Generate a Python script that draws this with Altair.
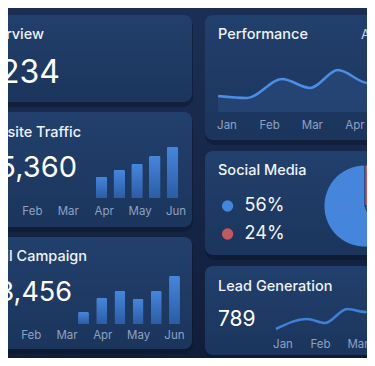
import altair as alt
import pandas as pd

FONT = "Inter"

# ---------------- data ----------------
months = ["Jan", "Feb", "Mar", "Apr", "May", "Jun"]
card_titles = ["Overview", "Website Traffic", "Email Campaign",
               "Performance", "Social Media", "Lead Generation"]
overview_total = "1,234"
traffic_total = "15,360"
email_total = "13,456"
lead_total = "789"
performance_side = "Avg"

traffic_months = ["Feb", "Mar", "Apr", "May", "Jun"]
traffic_values = [2.1, 2.8, 3.4, 4.2, 5.1]

email_months = ["Jan", "Feb", "Mar", "Apr", "May", "Jun"]
email_values = [1.2, 2.6, 3.3, 2.5, 3.3, 4.8]

performance_t = [-0.21, 0.47, 1.29, 1.95, 2.60, 3.30, 3.95]
performance_v = [16, 14, 33, 24, 42, 29, 38]

lead_t = [-0.19, 0.64, 1.12, 1.71, 2.19, 2.80]
lead_v = [11, 21, 17, 31, 28, 32]

social_labels = ["56%", "24%", "20%"]
social_values = [56, 24, 20]
social_order = [2, 0, 1]

# ---------------- style / layout ----------------
W, H = 359, 350
TITLE = "#eef2f9"
MUTED = "#8fa1c1"
BLUE = "#4586dc"
RED = "#c15a5f"
DARKBLUE = "#3667b3"

one = pd.DataFrame({"k": [0]})


def vgrad(top, bottom):
    return alt.Gradient(gradient="linear", x1=0, y1=0, x2=0, y2=1,
                        stops=[alt.GradientStop(offset=0, color=top),
                               alt.GradientStop(offset=1, color=bottom)])


def rect(x0, y0, x1, y1, color, radius=0, opacity=1.0):
    return alt.Chart(one).mark_rect(color=color, cornerRadius=radius, opacity=opacity).encode(
        x=alt.value(x0), x2=alt.value(x1), y=alt.value(y0), y2=alt.value(y1))


def label(s, x, y, size, color=TITLE, weight=500, align="left"):
    return alt.Chart(one).mark_text(font=FONT, fontSize=size, fontWeight=weight, color=color,
                                    align=align, baseline="alphabetic").encode(
        x=alt.value(x), y=alt.value(y), text=alt.value(s))


def lin(domain, rng):
    return alt.Scale(domain=domain, range=rng, nice=False, zero=False)


def month_row(labels, domain, rng, y):
    df = pd.DataFrame({"month": labels, "idx": list(range(len(labels)))})
    return alt.Chart(df).mark_text(font=FONT, fontSize=11.5, color=MUTED, align="center",
                                   baseline="alphabetic").encode(
        x=alt.X("idx:Q", scale=lin(domain, rng), axis=None),
        y=alt.value(y), text="month:N")


layers = []

# page background
layers.append(rect(0, 0, W, H, vgrad("#1b2f56", "#111e3a")))

cards = [(-42, 7, 184, 94), (-42, 104, 184, 219), (-42, 229, 184, 341),
         (197, 7, 430, 132), (197, 143, 430, 247), (197, 258, 430, 347)]
for (x0, y0, x1, y1) in cards:
    layers.append(rect(x0, y0 + 2, x1 + 1, y1 + 5, "#0a142b", radius=10, opacity=0.45))
for (x0, y0, x1, y1) in cards:
    layers.append(rect(x0, y0, x1, y1, vgrad("#22406d", "#1b355c"), radius=8))

# performance line chart
perf_df = pd.DataFrame({"t": performance_t, "v": performance_v})
px = alt.X("t:Q", scale=lin([0, 3], [219, 347]), axis=None)
py = alt.Y("v:Q", scale=lin([0, 50], [104, 54]), axis=None)
layers.append(alt.Chart(perf_df).mark_area(color="#2b4d82", opacity=0.55,
                                           interpolate="monotone").encode(x=px, y=py))
layers.append(alt.Chart(perf_df).mark_line(color="#4a8ee6", strokeWidth=2.5,
                                           interpolate="monotone").encode(x=px, y=py))

# lead generation line
lead_df = pd.DataFrame({"t": lead_t, "v": lead_v})
layers.append(alt.Chart(lead_df).mark_line(color="#3f7fd6", strokeWidth=2.5,
                                           interpolate="monotone").encode(
    x=alt.X("t:Q", scale=lin([0, 2], [275, 350]), axis=None),
    y=alt.Y("v:Q", scale=lin([0, 50], [332, 282]), axis=None)))

# bars
bar_grad = vgrad("#4686dc", "#2c5ca4")
traffic_df = pd.DataFrame({"month": traffic_months, "visits": traffic_values})
layers.append(alt.Chart(traffic_df).mark_bar(color=bar_grad, cornerRadiusTopLeft=1.5,
                                             cornerRadiusTopRight=1.5).encode(
    x=alt.X("month:N", sort=traffic_months,
            scale=alt.Scale(type="band", domain=traffic_months, range=[84.6, 173.4],
                            paddingInner=0.35, paddingOuter=0.175), axis=None),
    y=alt.Y("visits:Q", scale=alt.Scale(domain=[0, 6], range=[190, 130], nice=False), axis=None)))

email_df = pd.DataFrame({"month": email_months, "opens": email_values})
layers.append(alt.Chart(email_df).mark_bar(color=bar_grad, cornerRadiusTopLeft=1.5,
                                           cornerRadiusTopRight=1.5).encode(
    x=alt.X("month:N", sort=email_months,
            scale=alt.Scale(type="band", domain=email_months, range=[66.4, 175.6],
                            paddingInner=0.4, paddingOuter=0.2), axis=None),
    y=alt.Y("opens:Q", scale=alt.Scale(domain=[0, 6], range=[316, 256], nice=False), axis=None)))

# social media pie + legend
social_df = pd.DataFrame({"label": social_labels, "share": social_values, "ord": social_order})
layers.append(alt.Chart(social_df).mark_arc(radius=41, stroke="#1d3760", strokeWidth=0.8).encode(
    theta=alt.Theta("share:Q", stack=True),
    order=alt.Order("ord:Q"),
    color=alt.Color("label:N",
                    scale=alt.Scale(domain=social_labels, range=[BLUE, RED, DARKBLUE]),
                    legend=alt.Legend(orient="none", legendX=210.6, legendY=189,
                                      values=social_labels[:2], title=None,
                                      symbolType="circle", symbolSize=127,
                                      symbolStrokeWidth=0, labelFontSize=18,
                                      labelColor="#f2f5fb", labelFont=FONT,
                                      labelOffset=8, rowPadding=10, padding=0)),
    x=alt.value(357), y=alt.value(198)))

# texts
layers.append(label(card_titles[0], 36, 31, 14.5, align="right"))
layers.append(label(overview_total, 52, 75, 32, color="#ffffff", weight=400, align="right"))
layers.append(label(card_titles[1], 73, 129, 14.5, align="right"))
layers.append(label(traffic_total, 69, 169, 29, color="#ffffff", weight=400, align="right"))
layers.append(label(card_titles[2], 79, 253, 14.5, align="right"))
layers.append(label(email_total, 64, 293, 27, color="#ffffff", weight=400, align="right"))
layers.append(label(card_titles[3], 210, 31, 14.5))
layers.append(label(performance_side, 353, 31, 13, color="#c9d3e4", weight=400))
layers.append(label(card_titles[4], 210, 167, 14.5))
layers.append(label(card_titles[5], 210, 283, 14.5))
layers.append(label(lead_total, 210, 318, 21, color="#ffffff", weight=400))

# month rows
layers.append(month_row(months, [0, 5], [-11.5, 168], 207))
layers.append(month_row(months, [0, 5], [-12.6, 166.4], 331))
layers.append(month_row(months[:5], [0, 3], [219, 347], 121))
layers.append(month_row(months[:4], [0, 2], [275, 350], 340))

chart = alt.layer(*layers).resolve_scale(
    x="independent", y="independent"
).properties(
    width=W, height=H, padding=0,
    autosize=alt.AutoSizeParams(type="none"),
    background="#15274a",
).configure_view(stroke=None)

chart.save("out.html", embed_options={"renderer": "svg", "actions": False})
